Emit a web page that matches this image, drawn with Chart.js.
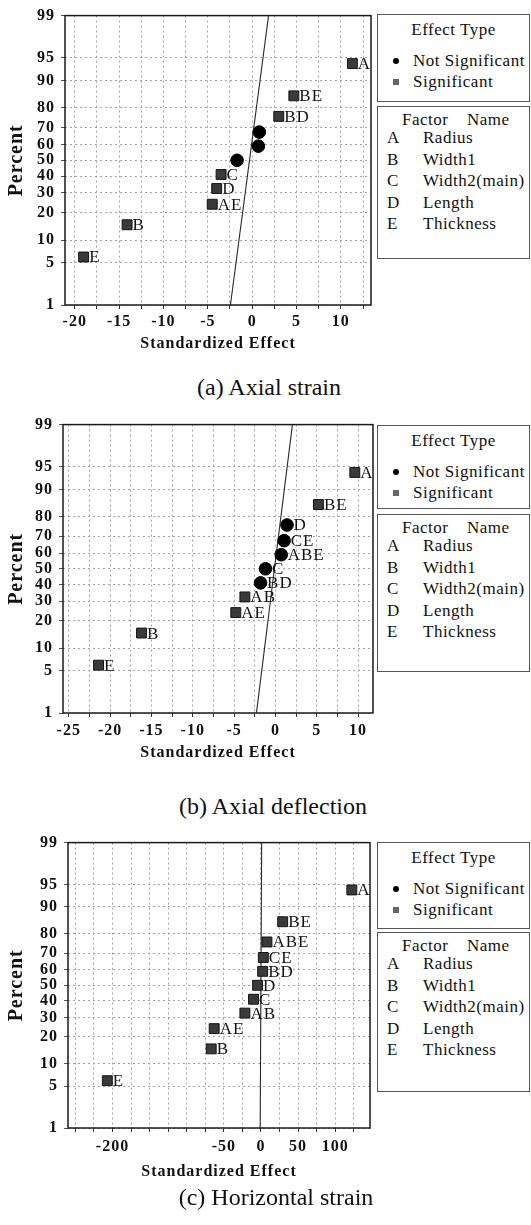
<!DOCTYPE html>
<html><head><meta charset="utf-8">
<script src="https://cdn.jsdelivr.net/npm/chart.js@4.4.0/dist/chart.umd.min.js"></script>
<style>
html,body{margin:0;padding:0;background:#fff;}
body{width:531px;height:1225px;position:relative;overflow:hidden;font-family:"Liberation Serif","Times New Roman",serif;color:#111;}
canvas.cv{position:absolute;left:0;z-index:1;}
.box{position:absolute;left:377px;width:151px;border:1px solid #555;background:#fff;z-index:2;}
.box div{position:absolute;white-space:nowrap;font-size:17px;line-height:20px;letter-spacing:0.5px;}
.box .ttl{left:0;right:0;text-align:center;}
.mk{position:absolute;}
.cap{position:absolute;width:400px;text-align:center;font-size:24px;line-height:28px;z-index:2;white-space:nowrap;}
</style></head>
<body>
<canvas id="c1" class="cv"></canvas>
<canvas id="c2" class="cv"></canvas>
<canvas id="c3" class="cv"></canvas>
<div class="cap" style="left:69px;top:373px">(a) Axial strain</div>
<div class="cap" style="left:73px;top:792px">(b) Axial deflection</div>
<div class="cap" style="left:76px;top:1183px">(c) Horizontal strain</div>
<script>
// ---------- data ----------
const percents = [6, 15, 24, 32.5, 41, 50, 59, 67.5, 76, 85, 94];
const yTickLabels = [1, 5, 10, 20, 30, 40, 50, 60, 70, 80, 90, 95, 99];
const linePercents = [1, 99];

// (a) Axial strain
const effectsA = [-19.0, -14.1, -4.5, -4.0, -3.5, -1.7, 0.7, 0.8, 3.0, 4.7, 11.3];
const namesA   = ['E', 'B', 'AE', 'D', 'C', '', '', '', 'BD', 'BE', 'A'];
const signifA  = [1, 1, 1, 1, 1, 0, 0, 0, 1, 1, 1];
const lineA    = [-2.45, 1.85];
const xTicksA  = [-20, -15, -10, -5, 0, 5, 10];

// (b) Axial deflection
const effectsB = [-21.4, -16.2, -4.8, -3.7, -1.8, -1.2, 0.7, 1.05, 1.4, 5.2, 9.6];
const namesB   = ['E', 'B', 'AE', 'AB', 'BD', 'C', 'ABE', 'CE', 'D', 'BE', 'A'];
const signifB  = [1, 1, 1, 1, 0, 0, 0, 0, 0, 1, 1];
const lineB    = [-2.3, 2.05];
const xTicksB  = [-25, -20, -15, -10, -5, 0, 5, 10];

// (c) Horizontal strain
const effectsC = [-207, -67, -63, -21.6, -10, -4.5, 2.3, 3.2, 8.1, 29.3, 122.5];
const namesC   = ['E', 'B', 'AE', 'AB', 'C', 'D', 'BD', 'CE', 'ABE', 'BE', 'A'];
const signifC  = [1, 1, 1, 1, 1, 1, 1, 1, 1, 1, 1];
const lineC    = [-1, 1];
const xTicksC  = [-200, -50, 0, 50, 100];

const effectTypes = ['Not Significant', 'Significant'];
const factorLetters = ['A', 'B', 'C', 'D', 'E'];
const factorNames = ['Radius', 'Width1', 'Width2(main)', 'Length', 'Thickness'];

// ---------- normal probability transform (Acklam) ----------
function probit(p){
  const a=[-3.969683028665376e+01,2.209460984245205e+02,-2.759285104469687e+02,1.383577518672690e+02,-3.066479806614716e+01,2.506628277459239e+00];
  const b=[-5.447609879822406e+01,1.615858368580409e+02,-1.556989798598866e+02,6.680131188771972e+01,-1.328068155288572e+01];
  const c=[-7.784894002430293e-03,-3.223964580411365e-01,-2.400758277161838e+00,-2.549732539343734e+00,4.374664141464968e+00,2.938163982698783e+00];
  const d=[7.784695709041462e-03,3.224671290700398e-01,2.445134137142996e+00,3.754408661907416e+00];
  const pl=0.02425, ph=1-pl; let q,r;
  if(p<pl){q=Math.sqrt(-2*Math.log(p));return (((((c[0]*q+c[1])*q+c[2])*q+c[3])*q+c[4])*q+c[5])/((((d[0]*q+d[1])*q+d[2])*q+d[3])*q+1);}
  if(p>ph){q=Math.sqrt(-2*Math.log(1-p));return -(((((c[0]*q+c[1])*q+c[2])*q+c[3])*q+c[4])*q+c[5])/((((d[0]*q+d[1])*q+d[2])*q+d[3])*q+1);}
  q=p-0.5;r=q*q;return (((((a[0]*r+a[1])*r+a[2])*r+a[3])*r+a[4])*r+a[5])*q/(((((b[0]*r+b[1])*r+b[2])*r+b[3])*r+b[4])*r+1);
}
const z = p => probit(p/100);

// ---------- plugins ----------
const textPlugin = {
  id:'spacing',
  beforeDraw(chart){ chart.ctx.letterSpacing = '1px'; }
};
const framePlugin = {
  id:'frame',
  beforeDatasetsDraw(chart){
    const a = chart.chartArea, ctx = chart.ctx;
    ctx.save(); ctx.strokeStyle = '#1a1a1a'; ctx.lineWidth = 1.5; ctx.setLineDash([]);
    ctx.strokeRect(a.left, a.top, a.right - a.left, a.bottom - a.top);
    ctx.restore();
  }
};
const labelPlugin = {
  id:'pointLabels',
  afterDatasetsDraw(chart){
    const ctx = chart.ctx;
    ctx.save();
    ctx.font = '17px "Liberation Serif", serif';
    ctx.fillStyle = '#111'; ctx.textAlign = 'left'; ctx.textBaseline = 'middle';
    chart.data.datasets.forEach((ds, i) => {
      if (!ds.pointLabels) return;
      const meta = chart.getDatasetMeta(i);
      meta.data.forEach((el, j) => {
        const t = ds.pointLabels[j];
        if (t) ctx.fillText(t, el.x + ds.labelOffset, el.y + 1);
      });
    });
    ctx.restore();
  }
};

// ---------- panel builder ----------
function makePanel(id, o){
  const cv = document.getElementById(id);
  cv.style.top = o.top + 'px';
  cv.width = 386; cv.height = o.height;
  cv.style.width = '386px'; cv.style.height = o.height + 'px';

  const sig = [], sigL = [], ns = [], nsL = [];
  o.effects.forEach((e, i) => {
    const pt = {x: e, y: z(percents[i])};
    if (o.signif[i]) { sig.push(pt); sigL.push(o.names[i]); }
    else { ns.push(pt); nsL.push(o.names[i]); }
  });
  const gridTicks = [];
  for (let v = Math.ceil(o.xMin / o.step) * o.step; v <= o.xMax + 1e-9; v += o.step) gridTicks.push(+v.toFixed(4));

  new Chart(cv, {
    type:'scatter',
    data:{ datasets:[
      { label:'fit', data:[{x:o.line[0], y:z(linePercents[0])},{x:o.line[1], y:z(linePercents[1])}],
        showLine:true, borderColor:'#2a2a2a', borderWidth:1.1, pointRadius:0, order:3 },
      { label:effectTypes[1], data:sig, pointStyle:'rect', pointRadius:7,
        backgroundColor:'#3a3a3a', borderColor:'#151515', borderWidth:1, order:1,
        pointLabels:sigL, labelOffset:5.5 },
      { label:effectTypes[0], data:ns, pointStyle:'circle', pointRadius:6.3,
        backgroundColor:'#000', borderColor:'#000', borderWidth:1, order:2,
        pointLabels:nsL, labelOffset:6.5 }
    ]},
    options:{
      responsive:false, animation:false, events:[],
      layout:{ padding:{ top:15, right:o.padRight, left:0, bottom:0 } },
      plugins:{ legend:{display:false}, tooltip:{enabled:false} },
      scales:{
        x:{
          type:'linear', min:o.xMin, max:o.xMax,
          afterFit(s){ s.height = o.xAxisH; },
          afterBuildTicks(s){ s.ticks = gridTicks.map(v => ({value:v})); },
          ticks:{ autoSkip:false, maxRotation:0, padding:o.xTickPad, color:'#111',
            font:{ family:'"Liberation Serif", serif', size:16, weight:'bold' },
            callback:(v) => o.xTicks.some(t => Math.abs(t - v) < 1e-6) ? String(v) : '' },
          grid:{ color:'#a3a3a3', lineWidth:1, tickLength:4, tickColor:'#333', tickBorderDash:[], borderDash:[2,3] },
          border:{ display:false, dash:[2,3] },
          title:{ display:true, text:'Standardized Effect', color:'#111',
            font:{ family:'"Liberation Serif", serif', size:16, weight:'bold' }, padding:{top:0, bottom:6.4} }
        },
        y:{
          type:'linear', min:z(1), max:z(99),
          afterFit(s){ s.width = o.yAxisW; },
          afterBuildTicks(s){ s.ticks = yTickLabels.map(p => ({value:z(p)})); },
          ticks:{ autoSkip:false, padding:6, color:'#111',
            font:{ family:'"Liberation Serif", serif', size:16, weight:'bold' },
            callback:(v, i) => String(yTickLabels[i]) },
          grid:{ color:'#a3a3a3', lineWidth:1, tickLength:4, tickColor:'#555', tickBorderDash:[], borderDash:[2,3] },
          border:{ display:false, dash:[2,3] },
          title:{ display:true, text:'Percent', color:'#111',
            font:{ family:'"Liberation Serif", serif', size:20, weight:'bold' }, padding:{top:5, bottom:0} }
        }
      }
    },
    plugins:[textPlugin, framePlugin, labelPlugin]
  });
}

makePanel('c1', { top:0, height:360, xMin:-21.1, xMax:13.4, step:2.5, padRight:15, yAxisW:65, xAxisH:55, xTickPad:3,
  effects:effectsA, names:namesA, signif:signifA, line:lineA, xTicks:xTicksA });
makePanel('c2', { top:409, height:360, xMin:-25.7, xMax:11.8, step:2.5, padRight:13, yAxisW:63, xAxisH:56, xTickPad:4,
  effects:effectsB, names:namesB, signif:signifB, line:lineB, xTicks:xTicksB });
makePanel('c3', { top:827, height:361, xMin:-260, xMax:147, step:25, padRight:16, yAxisW:68, xAxisH:60, xTickPad:5,
  effects:effectsC, names:namesC, signif:signifC, line:lineC, xTicks:xTicksC });

// ---------- legend boxes ----------
const boxes = [ {t1:14, h1:86, t2:106, h2:151}, {t1:425, h1:82, t2:514, h2:156}, {t1:842, h1:85, t2:932, h2:158} ];
boxes.forEach(b => {
  const e = document.createElement('div');
  e.className = 'box'; e.style.top = b.t1 + 'px'; e.style.height = b.h1 + 'px';
  e.innerHTML =
    '<div class="ttl" style="top:5px">Effect Type</div>' +
    '<span class="mk" style="left:15px;top:43px;width:6px;height:6px;border-radius:50%;background:#000"></span>' +
    '<div style="left:35px;top:36px">' + effectTypes[0] + '</div>' +
    '<span class="mk" style="left:15px;top:64px;width:6px;height:6px;background:#666"></span>' +
    '<div style="left:35px;top:57px">' + effectTypes[1] + '</div>';
  document.body.appendChild(e);
  const f = document.createElement('div');
  f.className = 'box'; f.style.top = b.t2 + 'px'; f.style.height = b.h2 + 'px';
  let html = '<div style="left:24px;top:3px">Factor</div><div style="left:89px;top:3px">Name</div>';
  factorLetters.forEach((L, i) => {
    const t = 21 + 21.5 * i;
    html += '<div style="left:9px;top:' + t + 'px">' + L + '</div>' +
            '<div style="left:45px;top:' + t + 'px">' + factorNames[i] + '</div>';
  });
  f.innerHTML = html;
  document.body.appendChild(f);
});
</script>
</body></html>
